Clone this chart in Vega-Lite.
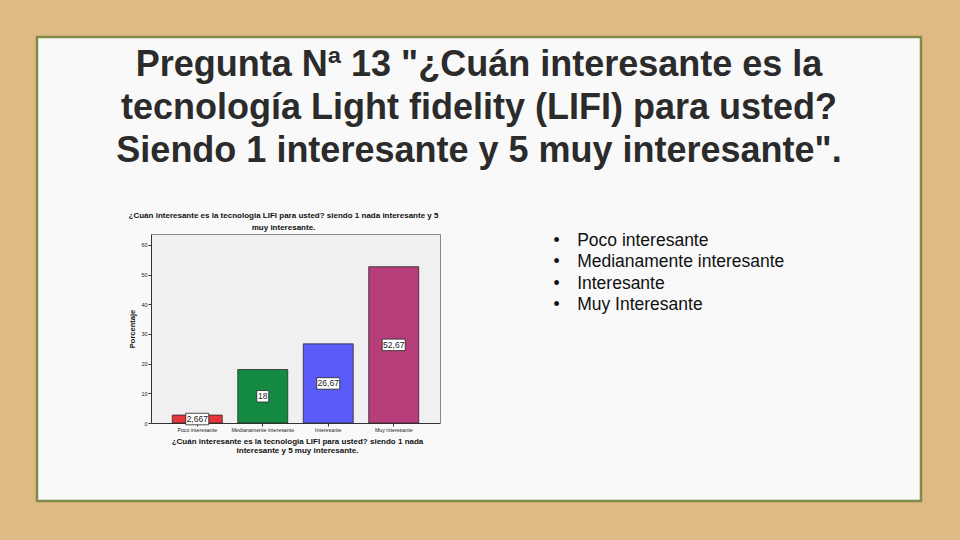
{
  "$schema": "https://vega.github.io/schema/vega-lite/v6.json",
  "width": 884,
  "height": 464,
  "autosize": {"type": "none"},
  "padding": {"left": 37, "top": 37, "right": 39, "bottom": 39},
  "background": "#dfba84",
  "view": {"fill": "#f9f9f9", "stroke": "#7d8c47", "strokeWidth": 2.5},
  "config": {
    "font": "Liberation Sans",
    "axis": {"grid": false, "labelFont": "Liberation Sans", "titleFont": "Liberation Sans"}
  },
  "title": {
    "text": ["Pregunta Nª 13 \"¿Cuán interesante es la", "tecnología Light fidelity (LIFI) para usted?", "Siendo 1 interesante y 5 muy interesante\"."],
    "font": "Liberation Sans",
    "fontSize": 36,
    "fontWeight": "bold",
    "color": "#2b2b2b",
    "lineHeight": 43,
    "anchor": "middle",
    "frame": "group",
    "baseline": "alphabetic",
    "offset": -161
  },
  "data": {
    "values": [
      {"cat": "Poco interesante", "bullet": "Poco interesante", "pct": 2.667, "label": "2,667"},
      {"cat": "Medianamente interesante", "bullet": "Medianamente interesante", "pct": 18, "label": "18"},
      {"cat": "Interesante", "bullet": "Interesante", "pct": 26.67, "label": "26,67"},
      {"cat": "Muy interesante", "bullet": "Muy Interesante", "pct": 52.67, "label": "52,67"}
    ]
  },
  "layer": [
    {
      "mark": {"type": "bar", "stroke": "#2a2a2a", "strokeWidth": 0.8},
      "encoding": {
        "x": {
          "field": "cat", "type": "nominal", "sort": null,
          "scale": {"range": [114, 403], "paddingInner": 0.237, "paddingOuter": 0.325},
          "axis": {
            "orient": "bottom", "offset": -78, "labelAngle": 0, "labelFontSize": 5.3, "labelColor": "#222",
            "labelOverlap": false, "labelPadding": 1.5, "tickSize": 3, "tickColor": "#333", "domainColor": "#333",
            "title": ["¿Cuán interesante es la tecnologia LIFI para usted? siendo 1 nada", "interesante y 5 muy interesante."],
            "titleFontSize": 8, "titleFontWeight": "bold", "titleLineHeight": 8.5, "titlePadding": 5, "titleX": 260, "titleColor": "#111"
          }
        },
        "y": {
          "field": "pct", "type": "quantitative",
          "scale": {"domain": [0, 63.7], "range": [386, 197], "nice": false, "zero": true},
          "axis": {
            "orient": "left", "offset": -114, "values": [0, 10, 20, 30, 40, 50, 60],
            "labelFontSize": 5.5, "labelColor": "#222", "labelPadding": 1, "tickSize": 3, "tickColor": "#333", "domainColor": "#333",
            "title": "Porcentaje", "titleFontSize": 7.5, "titleFontWeight": "bold", "titlePadding": 4, "titleColor": "#111"
          }
        },
        "color": {
          "field": "bullet", "type": "nominal",
          "scale": {"domain": ["Poco interesante", "Medianamente interesante", "Interesante", "Muy Interesante"], "range": ["#e6353b", "#148a42", "#5b5bfa", "#b83d7b"]},
          "legend": {
            "orient": "none", "legendX": 499, "legendY": 195, "title": null, "symbolType": "circle", "symbolSize": 0, "symbolOpacity": 0,
            "labelFontSize": 17.5, "labelColor": "#111", "labelOffset": 0, "rowPadding": 2.5, "padding": 0, "labelLimit": 400,
            "labelExpr": "'•\u2003' + datum.label"
          }
        }
      }
    },
    {
      "mark": {"type": "point", "fill": "white", "stroke": "#222", "strokeWidth": 0.8, "opacity": 1, "size": 529},
      "encoding": {
        "x": {
          "field": "cat", "type": "nominal", "sort": null,
          "axis": {
            "orient": "top", "offset": -197, "labels": false, "ticks": false, "domainColor": "#888",
            "title": ["¿Cuán interesante es la tecnologia LIFI para usted? siendo 1 nada interesante y 5", "muy interesante."],
            "titleFontSize": 8, "titleFontWeight": "bold", "titleLineHeight": 12, "titlePadding": 3, "titleX": 246, "titleColor": "#111"
          }
        },
        "y": {
          "field": "pct", "type": "quantitative", "stack": "zero", "bandPosition": 0.5,
          "axis": {"orient": "right", "offset": -481, "labels": false, "ticks": false, "title": null, "domainColor": "#888"}
        },
        "shape": {
          "condition": {"test": "length(datum.label) < 3", "value": "M-0.52,-0.5H0.52V0.5H-0.52Z"},
          "value": "M-1,-0.5H1V0.5H-1Z"
        }
      }
    },
    {
      "mark": {"type": "text", "fontSize": 8.5, "color": "#222", "baseline": "middle", "align": "center"},
      "encoding": {
        "x": {"field": "cat", "type": "nominal", "sort": null, "axis": null},
        "y": {
          "field": "pct", "type": "quantitative", "stack": "zero", "bandPosition": 0.5,
          "axis": {"orient": "left", "grid": true, "gridColor": "#f0f0f0", "gridWidth": 189, "gridCap": "butt", "values": [31.85], "labels": false, "ticks": false, "domain": false, "title": null}
        },
        "text": {"field": "label"}
      }
    }
  ],
  "resolve": {"axis": {"x": "independent", "y": "independent"}}
}
